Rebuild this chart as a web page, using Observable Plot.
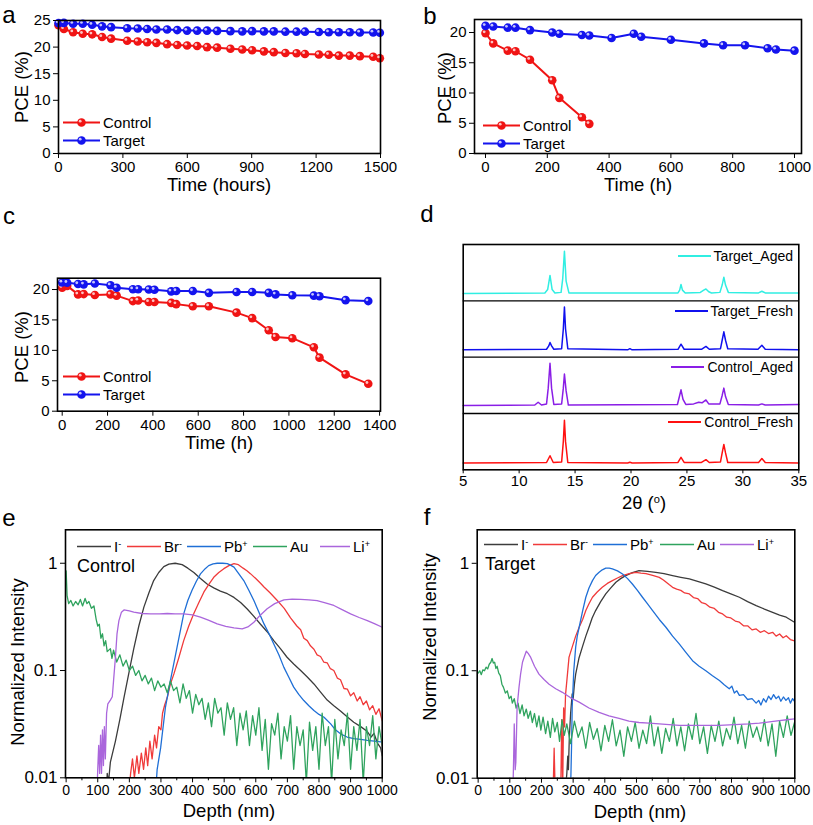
<!DOCTYPE html>
<html><head><meta charset="utf-8">
<script src="https://cdn.jsdelivr.net/npm/d3@7"></script>
<script src="https://cdn.jsdelivr.net/npm/@observablehq/plot@0.6"></script>
<style>
body{margin:0;background:#fff;}
#root{position:relative;width:813px;height:825px;font-family:"Liberation Sans",Arial,sans-serif;color:#000;overflow:hidden;background:#fff;}
.t{position:absolute;white-space:nowrap;transform:translate(-50%,-50%);font-size:18.5px;line-height:1;}
.rot{transform:translate(-50%,-50%) rotate(-90deg);}
.let{position:absolute;font-size:24px;transform:translate(-50%,-50%);line-height:1.1;}
.leg{position:absolute;white-space:nowrap;transform:translateY(-50%);display:flex;align-items:center;line-height:1;}
sup{font-size:0.6em;vertical-align:0.55em;line-height:0;}
</style></head><body><div id="root"></div>
<script>
// ---------- Panel a ----------
const aTime = [0,25,68,113,157,203,245,320,369,413,456,506,553,599,646,692,739,801,856,902,957,1003,1057,1109,1148,1213,1259,1306,1357,1404,1466,1497];
const aControl = [24.1,23.4,22.8,22.5,22.4,21.9,21.6,21.2,21.05,20.9,20.8,20.55,20.4,20.3,20.2,20.0,19.9,19.7,19.55,19.4,19.2,19.05,18.9,18.85,18.7,18.6,18.55,18.4,18.4,18.3,18.2,17.9];
const aTarget = [24.5,24.55,24.4,24.4,24.2,23.9,23.75,23.55,23.5,23.4,23.3,23.3,23.2,23.1,23.1,23.1,23.05,23.0,22.95,23.0,22.95,22.95,22.9,22.9,22.9,22.85,22.8,22.8,22.8,22.75,22.75,22.7];
const aXTicks = [0,300,600,900,1200,1500];
const aYTicks = [0,5,10,15,20,25];
// ---------- Panel b ----------
const bControlTime = [0,25,72,97,144,216,239,312,336];
const bControl = [19.9,18.2,17.0,16.9,15.5,12.1,9.2,6.0,4.9];
const bTargetTime = [0,25,72,97,144,216,239,312,336,408,480,504,600,707,769,840,913,940,1000];
const bTarget = [21.1,21.0,20.8,20.8,20.4,20.0,19.8,19.6,19.5,19.1,19.8,19.3,18.8,18.2,17.9,17.9,17.4,17.2,17.0];
const bXTicks = [0,200,400,600,800,1000];
const bYTicks = [0,5,10,15,20];
// ---------- Panel c ----------
const cTime = [0,22,70,95,144,213,240,312,335,382,407,481,503,576,647,769,838,911,941,1015,1110,1135,1250,1350];
const cControl = [20.3,20.6,19.2,19.25,19.1,19.2,19.0,18.1,18.2,17.95,17.95,17.8,17.6,17.25,17.25,16.2,15.3,13.3,12.2,12.0,10.5,8.8,6.05,4.5];
const cTarget = [21.15,21.1,20.9,20.85,21.0,20.7,20.3,20.05,20.05,20.0,19.95,19.7,19.75,19.75,19.45,19.6,19.6,19.45,19.2,19.05,19.0,18.9,18.25,18.1];
const cXTicks = [0,200,400,600,800,1000,1200,1400];
const cYTicks = [0,5,10,15,20];
// ---------- Panel d (2theta, relative intensity within its strip) ----------
const xrdNames = ["Control_Fresh","Control_Aged","Target_Fresh","Target_Aged"];
const xrdColors = ["#ff1010","#8a1ee6","#1010ee","#30eee2"];
const xrdControlFresh = [[5,0.12],[12.45,0.13],[12.76,0.25],[13.05,0.13],[13.8,0.14],[13.95,0.5],[14.05,0.88],[14.15,0.5],[14.35,0.13],[19.7,0.12],[19.9,0.135],[20.1,0.12],[24.2,0.13],[24.47,0.22],[24.75,0.13],[26.3,0.13],[26.7,0.18],[27.0,0.13],[28.0,0.14],[28.15,0.3],[28.3,0.45],[28.45,0.3],[28.65,0.13],[31.4,0.13],[31.7,0.2],[32.0,0.13],[35,0.12]];
const xrdControlAged = [[5,0.14],[11.4,0.15],[11.7,0.2],[12.0,0.15],[12.45,0.17],[12.6,0.45],[12.76,0.89],[12.9,0.45],[13.1,0.16],[13.8,0.17],[13.95,0.45],[14.05,0.7],[14.2,0.4],[14.4,0.15],[24.15,0.16],[24.3,0.28],[24.47,0.42],[24.65,0.25],[24.9,0.16],[25.6,0.17],[26.05,0.2],[26.35,0.19],[26.7,0.24],[26.95,0.17],[27.95,0.17],[28.15,0.32],[28.3,0.45],[28.45,0.3],[28.7,0.16],[31.4,0.15],[31.7,0.17],[32.0,0.15],[35,0.16]];
const xrdTargetFresh = [[5,0.13],[12.45,0.14],[12.65,0.2],[12.76,0.26],[12.9,0.2],[13.1,0.14],[13.8,0.15],[13.95,0.5],[14.05,0.89],[14.15,0.5],[14.35,0.15],[19.7,0.13],[19.9,0.15],[20.1,0.13],[24.2,0.14],[24.47,0.23],[24.75,0.14],[26.3,0.14],[26.7,0.19],[27.0,0.14],[28.0,0.15],[28.15,0.3],[28.3,0.45],[28.45,0.3],[28.65,0.15],[31.35,0.14],[31.7,0.21],[32.0,0.14],[35,0.13]];
const xrdTargetAged = [[5,0.13],[12.3,0.14],[12.55,0.2],[12.76,0.45],[12.95,0.2],[13.2,0.14],[13.75,0.15],[13.9,0.4],[14.05,0.88],[14.2,0.35],[14.45,0.14],[24.2,0.14],[24.35,0.19],[24.47,0.29],[24.6,0.19],[24.85,0.14],[26.2,0.15],[26.5,0.19],[26.7,0.21],[26.95,0.16],[27.2,0.14],[27.95,0.15],[28.15,0.28],[28.3,0.42],[28.45,0.28],[28.7,0.15],[31.4,0.14],[31.7,0.17],[32.0,0.14],[35,0.14]];
const dXTicks = [5,10,15,20,25,30,35];
// ---------- Panel e (depth nm, normalized intensity) ----------
const ionNames = ["I","Br","Pb","Au","Li"];
const ionColors = ["#3c3c3c","#f03a3a","#1f6fd6","#2fa35e","#aa66dc"];
const eI = [[128,0.008],[130,0.011],[134,0.009],[140,0.014],[156,0.022],[170,0.035],[183,0.056],[200,0.1],[214,0.16],[230,0.26],[246,0.39],[262,0.53],[277,0.69],[293,0.82],[309,0.93],[325,0.98],[345,1.0],[367,0.97],[385,0.9],[404,0.82],[425,0.72],[446,0.64],[467,0.59],[488,0.55],[510,0.52],[531,0.48],[552,0.43],[573,0.375],[594,0.32],[615,0.27],[636,0.23],[657,0.19],[678,0.16],[699,0.133],[720,0.115],[742,0.1],[763,0.087],[784,0.075],[805,0.063],[826,0.053],[847,0.047],[868,0.042],[889,0.037],[910,0.033],[932,0.03],[953,0.027],[965,0.024],[974,0.026],[985,0.021],[995,0.019],[1000,0.016]];
const eBr = [[200,0.008],[204,0.011],[210,0.015],[216,0.01],[224,0.016],[230,0.011],[238,0.017],[245,0.012],[252,0.019],[258,0.013],[265,0.022],[272,0.015],[280,0.025],[286,0.019],[293,0.03],[300,0.028],[305,0.04],[312,0.048],[320,0.056],[330,0.075],[341,0.093],[356,0.13],[372,0.19],[388,0.26],[404,0.34],[420,0.43],[436,0.54],[452,0.64],[467,0.74],[483,0.82],[499,0.89],[515,0.95],[531,0.99],[545,0.97],[560,0.9],[572,0.85],[583,0.8],[600,0.72],[615,0.65],[626,0.6],[645,0.53],[668,0.45],[690,0.38],[710,0.31],[730,0.26],[742,0.24],[752,0.2],[763,0.19],[773,0.17],[784,0.158],[794,0.14],[805,0.135],[815,0.12],[826,0.118],[836,0.104],[847,0.1],[858,0.085],[868,0.082],[879,0.068],[890,0.067],[900,0.058],[910,0.062],[921,0.052],[930,0.057],[940,0.048],[950,0.052],[960,0.043],[970,0.047],[980,0.039],[990,0.044],[1000,0.034]];
const ePb = [[284,0.008],[288,0.012],[299,0.019],[314,0.045],[330,0.081],[351,0.165],[372,0.337],[385,0.45],[398,0.556],[412,0.68],[425,0.795],[440,0.89],[451,0.95],[465,0.985],[478,1.0],[495,1.0],[510,0.99],[520,0.96],[531,0.92],[546,0.8],[562,0.69],[578,0.56],[594,0.449],[610,0.35],[626,0.272],[642,0.22],[657,0.177],[673,0.14],[689,0.107],[705,0.086],[720,0.07],[736,0.06],[752,0.0525],[768,0.047],[784,0.0424],[800,0.039],[816,0.0367],[837,0.0318],[852,0.028],[868,0.0257],[889,0.024],[910,0.0232],[932,0.0228],[953,0.0223],[975,0.022],[995,0.0216]];
const eAu = [[0,0.85],[3,0.5],[8,0.42],[15,0.45],[22,0.4],[30,0.44],[38,0.41],[45,0.46],[52,0.4],[60,0.47],[66,0.42],[72,0.44],[80,0.38],[88,0.4],[95,0.3],[100,0.26],[105,0.27],[110,0.2],[115,0.22],[120,0.17],[125,0.19],[130,0.15],[140,0.16],[145,0.13],[150,0.155],[160,0.12],[170,0.14],[180,0.11],[190,0.125],[200,0.1],[210,0.11],[220,0.09],[230,0.1],[240,0.08],[250,0.09],[260,0.075],[270,0.085],[280,0.065],[290,0.08],[300,0.07],[310,0.075],[320,0.062],[330,0.08],[340,0.065],[350,0.07],[360,0.05],[370,0.075],[380,0.055],[390,0.065],[400,0.04],[410,0.06],[420,0.048],[430,0.055],[440,0.035],[450,0.05],[460,0.03],[470,0.055],[480,0.04],[490,0.045],[500,0.025],[510,0.05],[520,0.035],[530,0.045],[540,0.02],[550,0.04],[560,0.028],[570,0.042],[580,0.02],[590,0.038],[600,0.025],[610,0.045],[620,0.018],[630,0.035],[640,0.012],[650,0.032],[660,0.025],[670,0.04],[680,0.015],[690,0.03],[700,0.022],[710,0.038],[720,0.012],[730,0.03],[740,0.02],[750,0.028],[760,0.009],[770,0.033],[780,0.018],[790,0.03],[800,0.012],[810,0.04],[820,0.02],[830,0.03],[840,0.009],[850,0.035],[860,0.015],[870,0.028],[880,0.02],[890,0.04],[900,0.012],[910,0.03],[920,0.018],[930,0.035],[940,0.009],[950,0.03],[960,0.02],[970,0.038],[980,0.015],[990,0.03],[1000,0.02]];
const eLi = [[98,0.008],[100,0.012],[103,0.02],[106,0.011],[109,0.025],[112,0.011],[115,0.028],[118,0.013],[121,0.03],[124,0.015],[128,0.04],[132,0.049],[140,0.053],[146,0.057],[150,0.08],[156,0.133],[161,0.22],[167,0.292],[175,0.35],[183,0.367],[200,0.36],[214,0.35],[240,0.34],[267,0.337],[295,0.338],[320,0.34],[345,0.338],[372,0.337],[400,0.33],[425,0.314],[450,0.295],[478,0.272],[505,0.258],[531,0.25],[557,0.245],[575,0.255],[594,0.282],[615,0.33],[636,0.376],[660,0.42],[689,0.455],[715,0.462],[742,0.46],[768,0.456],[794,0.449],[820,0.428],[847,0.404],[873,0.37],[900,0.337],[927,0.312],[953,0.292],[977,0.272],[1000,0.253]];
// ---------- Panel f ----------
const fI = [[276,0.008],[280,0.011],[283,0.016],[285,0.012],[288,0.024],[292,0.04],[297,0.061],[300,0.055],[304,0.075],[308,0.093],[318,0.13],[329,0.166],[340,0.21],[350,0.254],[360,0.31],[371,0.363],[387,0.44],[403,0.519],[419,0.59],[435,0.666],[450,0.72],[466,0.768],[487,0.82],[508,0.855],[535,0.84],[561,0.825],[587,0.8],[614,0.768],[640,0.74],[667,0.715],[693,0.68],[719,0.642],[746,0.6],[772,0.557],[798,0.52],[825,0.483],[851,0.44],[878,0.404],[904,0.375],[930,0.35],[952,0.33],[973,0.315],[999,0.283]];
const fBr = [[237,0.008],[240,0.019],[243,0.008],[261,0.008],[264,0.035],[267,0.008],[270,0.045],[273,0.03],[276,0.06],[280,0.08],[287,0.134],[297,0.166],[308,0.21],[319,0.254],[330,0.3],[340,0.363],[350,0.42],[361,0.483],[376,0.54],[392,0.598],[408,0.65],[424,0.69],[440,0.73],[456,0.768],[477,0.8],[498,0.825],[514,0.81],[530,0.8],[551,0.77],[572,0.74],[585,0.7],[593,0.67],[604,0.63],[614,0.598],[627,0.575],[640,0.56],[652,0.53],[667,0.519],[680,0.48],[693,0.47],[706,0.43],[719,0.419],[732,0.39],[746,0.38],[759,0.35],[772,0.338],[785,0.315],[798,0.31],[812,0.29],[825,0.283],[838,0.262],[851,0.262],[865,0.24],[878,0.245],[891,0.228],[904,0.236],[917,0.222],[930,0.228],[941,0.21],[952,0.22],[963,0.203],[973,0.212],[986,0.195],[999,0.19]];
const fPb = [[292,0.008],[295,0.02],[297,0.046],[302,0.1],[308,0.166],[313,0.21],[319,0.254],[330,0.36],[340,0.483],[350,0.59],[361,0.69],[371,0.77],[382,0.825],[392,0.87],[403,0.9],[414,0.9],[424,0.886],[440,0.85],[456,0.796],[472,0.72],[487,0.642],[503,0.56],[519,0.483],[535,0.42],[551,0.363],[572,0.3],[593,0.254],[614,0.21],[635,0.178],[656,0.148],[677,0.124],[698,0.11],[719,0.1],[740,0.09],[762,0.081],[777,0.074],[793,0.068],[801,0.072],[809,0.062],[817,0.065],[825,0.059],[838,0.06],[851,0.054],[865,0.055],[878,0.05],[886,0.053],[893,0.048],[901,0.055],[909,0.051],[917,0.058],[925,0.054],[933,0.06],[941,0.055],[949,0.058],[956,0.052],[964,0.057],[972,0.053],[980,0.056],[986,0.05],[993,0.055],[999,0.052]];
const fAu = [[0,0.095],[5,0.1],[10,0.092],[15,0.102],[20,0.1],[25,0.108],[30,0.104],[35,0.115],[40,0.12],[44,0.13],[48,0.118],[52,0.12],[56,0.105],[60,0.11],[65,0.095],[70,0.09],[75,0.075],[80,0.07],[86,0.062],[92,0.065],[98,0.055],[104,0.058],[108,0.05],[114,0.055],[120,0.045],[126,0.05],[132,0.04],[139,0.048],[145,0.038],[152,0.044],[158,0.036],[165,0.042],[171,0.033],[178,0.04],[185,0.03],[192,0.038],[198,0.028],[205,0.037],[213,0.026],[220,0.034],[228,0.024],[235,0.036],[242,0.027],[250,0.033],[257,0.022],[265,0.035],[272,0.025],[280,0.032],[292,0.021],[304,0.034],[316,0.024],[328,0.03],[340,0.019],[352,0.033],[364,0.023],[376,0.029],[388,0.018],[400,0.031],[412,0.022],[424,0.035],[436,0.02],[448,0.028],[460,0.016],[472,0.03],[484,0.022],[496,0.033],[508,0.019],[520,0.028],[532,0.021],[544,0.038],[556,0.02],[568,0.03],[580,0.017],[592,0.029],[604,0.022],[616,0.036],[628,0.02],[640,0.03],[652,0.018],[664,0.032],[676,0.023],[688,0.04],[700,0.021],[712,0.03],[724,0.017],[736,0.031],[748,0.022],[760,0.034],[772,0.02],[784,0.029],[796,0.023],[808,0.037],[820,0.021],[832,0.031],[844,0.019],[856,0.034],[868,0.024],[880,0.03],[892,0.022],[904,0.035],[916,0.02],[928,0.032],[940,0.016],[952,0.034],[964,0.024],[976,0.038],[988,0.025],[999,0.033]];
const fLi = [[110,0.008],[112,0.015],[114,0.032],[117,0.012],[119,0.014],[123,0.046],[129,0.07],[134,0.093],[140,0.12],[145,0.133],[152,0.152],[158,0.145],[166,0.133],[178,0.11],[192,0.093],[208,0.083],[224,0.075],[245,0.068],[266,0.063],[292,0.056],[319,0.051],[350,0.045],[382,0.041],[413,0.038],[445,0.036],[476,0.034],[508,0.033],[540,0.0325],[572,0.032],[603,0.0315],[635,0.031],[667,0.031],[698,0.031],[730,0.031],[762,0.031],[793,0.0313],[825,0.0317],[856,0.032],[888,0.0325],[920,0.0335],[951,0.0344],[975,0.035],[999,0.0357]];
const depthTicks = [0,100,200,300,400,500,600,700,800,900,1000];
const depthMinor = [50,150,250,350,450,550,650,750,850,950];
const logTicks = [0.01,0.1,1];

const FONT = '"Liberation Sans", Arial, sans-serif';
const root = document.getElementById("root");
const fmt = d => String(d);

function place(svg, left, top) {
  svg.style.position = "absolute";
  svg.style.left = left + "px";
  svg.style.top = top + "px";
  root.appendChild(svg);
}
function rows(t, v) { return t.map((x, i) => ({x, y: v[i]})); }
function pairs(a) { return a.map(([x, y]) => ({x, y})); }

function pcePanel(o) {
  const marks = [];
  for (const s of o.series) {
    const d = rows(s.t, s.v);
    marks.push(Plot.line(d, {x: "x", y: "y", stroke: s.color, strokeWidth: 2}));
    marks.push(Plot.dot(d, {x: "x", y: "y", r: 4.3, fill: s.color}));
    marks.push(Plot.dot(d, {x: "x", y: "y", r: 1.4, fill: "white", fillOpacity: 0.75, dx: -1.3, dy: -1.3}));
  }
  marks.push(Plot.axisX({ticks: o.xTicks, tickFormat: fmt, tickSize: 5, tickPadding: 3, fontSize: 15, label: null}));
  marks.push(Plot.axisY({ticks: o.yTicks, tickFormat: fmt, tickSize: 5, tickPadding: 3, fontSize: 15, label: null}));
  marks.push(Plot.frame({stroke: "#000", strokeWidth: 1.6}));
  const svg = Plot.plot({
    width: o.width, height: o.height,
    marginLeft: o.mL, marginRight: o.mR, marginTop: o.mT, marginBottom: o.mB,
    x: {domain: o.xDomain}, y: {domain: o.yDomain},
    style: {fontFamily: FONT, fontSize: "15px", color: "#000", background: "transparent", overflow: "visible"},
    marks
  });
  place(svg, o.left, o.top);
}

pcePanel({left: 0, top: 0, width: 400, height: 200, mL: 58, mR: 20, mT: 20, mB: 47,
  xDomain: [0, 1500], yDomain: [0, 25], xTicks: aXTicks, yTicks: aYTicks,
  series: [{t: aTime, v: aControl, color: "#f01414"}, {t: aTime, v: aTarget, color: "#1414ee"}]});
pcePanel({left: 405, top: 0, width: 408, height: 200, mL: 69, mR: 12, mT: 19, mB: 47,
  xDomain: [-35.6, 1022.7], yDomain: [0, 22.15], xTicks: bXTicks, yTicks: bYTicks,
  series: [{t: bControlTime, v: bControl, color: "#f01414"}, {t: bTargetTime, v: bTarget, color: "#1414ee"}]});
pcePanel({left: 0, top: 230, width: 400, height: 225, mL: 57, mR: 20, mT: 47.7, mB: 44.3,
  xDomain: [-20.7, 1404], yDomain: [0, 21.86], xTicks: cXTicks, yTicks: cYTicks,
  series: [{t: cTime, v: cControl, color: "#f01414"}, {t: cTime, v: cTarget, color: "#1414ee"}]});

// Panel d
{
  const sets = [xrdControlFresh, xrdControlAged, xrdTargetFresh, xrdTargetAged];
  const marks = [];
  sets.forEach((s, i) => {
    marks.push(Plot.line(pairs(s), {x: "x", y: d => d.y + i, stroke: xrdColors[i], strokeWidth: 1.5}));
  });
  marks.push(Plot.ruleY([1, 2, 3], {stroke: "#000", strokeWidth: 1.4}));
  marks.push(Plot.axisX({ticks: dXTicks, tickFormat: fmt, tickSize: 4, tickPadding: 2, fontSize: 15, label: null}));
  marks.push(Plot.frame({stroke: "#000", strokeWidth: 1.6}));
  const svg = Plot.plot({
    width: 408, height: 290, marginLeft: 57.7, marginRight: 14.7, marginTop: 14, marginBottom: 50.7,
    x: {domain: [5, 35]}, y: {domain: [0, 4], axis: null},
    style: {fontFamily: FONT, fontSize: "15px", color: "#000", background: "transparent", overflow: "visible"},
    marks
  });
  place(svg, 405, 230);
}

// Panels e, f
function simsPanel(o) {
  const marks = [];
  o.series.forEach((s, i) => {
    marks.push(Plot.line(pairs(s), {x: "x", y: "y", stroke: ionColors[i], strokeWidth: 1.3, clip: true}));
  });
  marks.push(Plot.axisX({ticks: depthTicks, tickFormat: fmt, tickSize: 5, tickPadding: 2, fontSize: 14, label: null}));
  marks.push(Plot.axisX({ticks: depthMinor, tickFormat: () => "", tickSize: 3, label: null}));
  marks.push(Plot.axisY({ticks: logTicks, tickFormat: fmt, tickSize: 5, tickPadding: 3, fontSize: 17, label: null}));
  marks.push(Plot.frame({stroke: "#000", strokeWidth: 1.6}));
  const svg = Plot.plot({
    width: o.width, height: 315, marginLeft: o.mL, marginRight: o.mR, marginTop: 19.3, marginBottom: o.mB,
    x: {domain: o.xDomain}, y: {type: "log", domain: [0.01, 2.05]},
    style: {fontFamily: FONT, fontSize: "15px", color: "#000", background: "transparent", overflow: "visible"},
    marks
  });
  place(svg, o.left, 510);
}
simsPanel({left: 0, width: 400, mL: 65, mR: 18.3, mB: 47.7, xDomain: [-2, 1000], series: [eI, eBr, ePb, eAu, eLi]});
simsPanel({left: 405, width: 408, mL: 71.7, mR: 18.7, mB: 47.3, xDomain: [-3, 1000], series: [fI, fBr, fPb, fAu, fLi]});

// ---------- text & legends ----------
let html = "";
const T = (x, y, s, cls = "t", extra = "") => { html += `<div class="${cls}" style="left:${x}px;top:${y}px;${extra}">${s}</div>`; };
// panel letters
T(9, 15, "a", "let"); T(430, 16, "b", "let"); T(9, 216, "c", "let");
T(427, 214, "d", "let"); T(9, 518, "e", "let"); T(427, 517, "f", "let");
// axis titles
T(22, 87, "PCE (%)", "t rot"); T(219, 185, "Time (hours)");
T(445, 88, "PCE (%)", "t rot"); T(638, 185, "Time (h)");
T(22, 347, "PCE (%)", "t rot"); T(219, 443, "Time (h)");
T(644, 503, "2θ (<sup>o</sup>)");
T(18, 662, "Normalized Intensity", "t rot"); T(229, 811, "Depth (nm)");
T(430, 637, "Normalized Intensity", "t rot"); T(640, 812, "Depth (nm)");

function dotSwatch(c) {
  return `<svg width="37" height="10" style="margin-right:3px"><line x1="0" y1="5" x2="37" y2="5" stroke="${c}" stroke-width="2"/><circle cx="18.5" cy="5" r="4.3" fill="${c}"/><circle cx="17.2" cy="3.7" r="1.4" fill="white" fill-opacity="0.75"/></svg>`;
}
function lineSwatch(c, w, sw = 1.6) {
  return `<svg width="${w}" height="6" style="margin-right:3px"><line x1="0" y1="3" x2="${w}" y2="3" stroke="${c}" stroke-width="${sw}"/></svg>`;
}
function leg(x, y, sw, text, size) {
  html += `<div class="leg" style="left:${x}px;top:${y}px;font-size:${size}px">${sw}<span>${text}</span></div>`;
}
// PCE legends
leg(63, 122, dotSwatch("#f01414"), "Control", 15); leg(63, 140, dotSwatch("#1414ee"), "Target", 15);
leg(483, 125, dotSwatch("#f01414"), "Control", 15); leg(483, 143, dotSwatch("#1414ee"), "Target", 15);
leg(63, 376, dotSwatch("#f01414"), "Control", 15); leg(63, 394, dotSwatch("#1414ee"), "Target", 15);
// XRD legends (right aligned)
const dLegY = [422, 367, 311, 256];
xrdNames.forEach((n, i) => {
  html += `<div class="leg" style="right:20px;top:${dLegY[i]}px;font-size:14px">${lineSwatch(xrdColors[i], 33, 2)}<span>${n}</span></div>`;
});
// SIMS legends
const ionLabels = ["I<sup>-</sup>", "Br<sup>-</sup>", "Pb<sup>+</sup>", "Au", "Li<sup>+</sup>"];
const eLegX = [77, 127, 187, 253, 320];
const fLegX = [484, 533, 593, 660, 720];
ionLabels.forEach((l, i) => {
  leg(eLegX[i], 546, lineSwatch(ionColors[i], i === 4 ? 30 : 34), l, 15);
  leg(fLegX[i], 544, lineSwatch(ionColors[i], 34), l, 15);
});
html += `<div class="leg" style="left:77px;top:566px;font-size:18px">Control</div>`;
html += `<div class="leg" style="left:485px;top:564px;font-size:18px">Target</div>`;
root.insertAdjacentHTML("beforeend", html);
</script></body></html>
